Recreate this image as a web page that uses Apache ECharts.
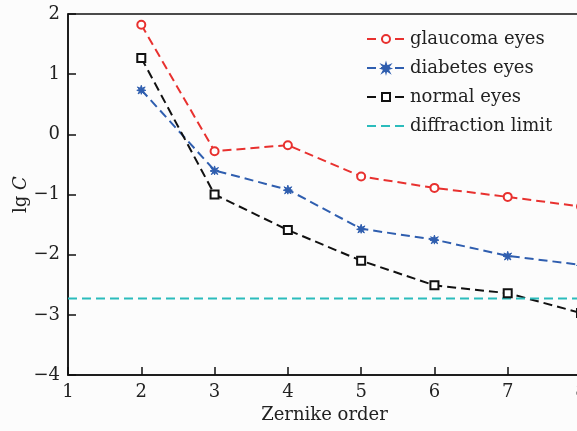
<!DOCTYPE html>
<html>
<head>
<meta charset="utf-8">
<script src="https://cdn.jsdelivr.net/npm/echarts@6/dist/echarts.min.js"></script>
<style>
  html, body { margin: 0; padding: 0; background: #fcfcfc; }
  #chart { width: 577px; height: 431px; }
</style>
</head>
<body>
<div id="chart"></div>
<script>
// Zernike order on x, lg C on y
const orders = [2, 3, 4, 5, 6, 7, 8];
const glaucoma = [1.82, -0.28, -0.18, -0.70, -0.89, -1.04, -1.20];
const diabetes = [0.74, -0.60, -0.92, -1.57, -1.75, -2.02, -2.17];
const normal = [1.27, -1.00, -1.59, -2.10, -2.51, -2.64, -2.97];
const diffractionLimit = -2.73;
const diffractionSpan = [1, 8];

const serif = '"DejaVu Serif", "Liberation Serif", serif';
const pairs = (xs, ys) => xs.map((x, i) => [x, ys[i]]);
const minus = v => String(v).replace('-', '\u2212');

const dashed = (color) => ({ color: color, width: 2, type: [9, 5] });
const textColor = '#222';
const fontSize = 18;

const chart = echarts.init(document.getElementById('chart'));
chart.setOption({
  backgroundColor: '#fcfcfc',
  animation: false,
  grid: {
    left: 68, right: -4, top: 14, bottom: 56,
    outerBoundsMode: 'none',
    show: true, borderColor: '#111', borderWidth: 1.5, backgroundColor: 'transparent'
  },
  legend: {
    orient: 'vertical',
    left: 361, top: 25,
    itemWidth: 38, itemHeight: 10, itemGap: 11,
    textStyle: { fontFamily: serif, fontSize: fontSize, color: textColor },
    data: [
      'glaucoma eyes', 'diabetes eyes', 'normal eyes',
      { name: 'diffraction limit', itemStyle: { opacity: 0 } }
    ]
  },
  xAxis: {
    type: 'value', min: 1, max: 8, interval: 1,
    name: 'Zernike order', nameLocation: 'middle', nameGap: 31,
    nameTextStyle: { fontFamily: serif, fontSize: fontSize, color: textColor },
    axisLine: { onZero: false, lineStyle: { color: '#111', width: 1.5 } },
    axisTick: { inside: true, length: 8, lineStyle: { color: '#111', width: 1.5 } },
    axisLabel: { fontFamily: serif, fontSize: fontSize, color: textColor, margin: 8 },
    splitLine: { show: false }
  },
  yAxis: {
    type: 'value', min: -4, max: 2, interval: 1,
    name: '{n|lg }{i|C}', nameLocation: 'middle', nameGap: 38, nameRotate: 90,
    nameMoveOverlap: false,
    nameTextStyle: {
      rich: {
        n: { fontFamily: serif, fontSize: fontSize, color: textColor },
        i: { fontFamily: serif, fontSize: fontSize, fontStyle: 'italic', color: textColor }
      }
    },
    axisLine: { onZero: false, lineStyle: { color: '#111', width: 1.5 } },
    axisTick: { inside: true, length: 8, lineStyle: { color: '#111', width: 1.5 } },
    axisLabel: { fontFamily: serif, fontSize: fontSize, color: textColor, margin: 8, formatter: minus },
    splitLine: { show: false }
  },
  series: [
    {
      name: 'glaucoma eyes', type: 'line', data: pairs(orders, glaucoma),
      symbol: 'emptyCircle', symbolSize: 8,
      lineStyle: dashed('#e8312f'),
      itemStyle: { color: '#e8312f', borderWidth: 2 }
    },
    {
      name: 'diabetes eyes', type: 'line', data: pairs(orders, diabetes),
      symbol: 'path://M5,0 L6,3.3 L9.3,1.8 L7.2,4.6 L10,5.6 L7,6.6 L8.6,9.6 L5.6,7.6 L5,10 L4.4,7.6 L1.4,9.6 L3,6.6 L0,5.6 L2.8,4.6 L0.7,1.8 L4,3.3 Z',
      symbolSize: 9,
      lineStyle: dashed('#2f5eaf'),
      itemStyle: { color: '#2f5eaf', borderColor: '#2f5eaf', borderWidth: 1 }
    },
    {
      name: 'normal eyes', type: 'line', data: pairs(orders, normal),
      symbol: 'emptyRect', symbolSize: 8,
      lineStyle: dashed('#111111'),
      itemStyle: { color: '#111111', borderWidth: 2 }
    },
    {
      name: 'diffraction limit', type: 'line',
      data: diffractionSpan.map(x => [x, diffractionLimit]),
      symbol: 'none',
      lineStyle: dashed('#2bbcbc'),
      itemStyle: { color: '#2bbcbc' }
    }
  ]
});
</script>
</body>
</html>
